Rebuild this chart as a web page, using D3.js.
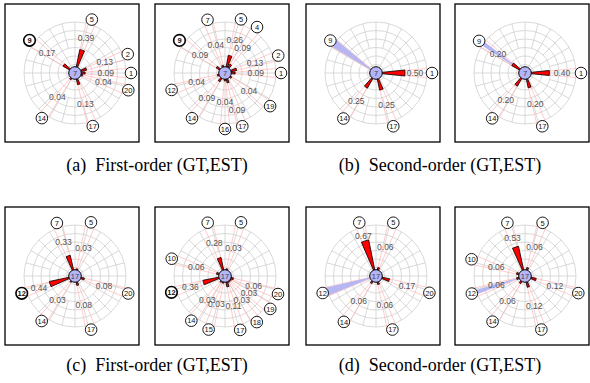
<!DOCTYPE html>
<html>
<head>
<meta charset="utf-8">
<script src="https://cdn.jsdelivr.net/npm/d3@7"></script>
<style>
body { margin: 0; background: #fff; }
</style>
</head>
<body>
<script>
// center node and previous node for each of the 8 small plots
const panelCenter = [7, 7, 7, 7, 17, 17, 17, 17]
const panelPrev = [9, 9, 9, 9, 12, 12, 12, 12]
const panelOrder = ['first', 'first', 'second', 'second', 'first', 'first', 'second', 'second']

// neighbours of the center node: id, bearing (deg, clockwise from north), probability
const nbIds = [
    [5, 2, 1, 20, 17, 14, 9],
    [7, 5, 4, 2, 1, 19, 17, 16, 14, 12, 9],
    [1, 17, 14, 9],
    [1, 17, 14, 9],
    [7, 5, 20, 17, 14, 12],
    [7, 5, 20, 19, 18, 17, 15, 14, 12, 10],
    [7, 5, 20, 17, 14, 12],
    [7, 5, 20, 17, 14, 12, 10]
]
const nbAngles = [
    [17.5, 70.3, 90, 107.9, 161.5, 216.3, 305.7],
    [341.8, 16.6, 34.9, 71.9, 90, 126.3, 162, 180, 216.1, 252.4, 305.6],
    [90, 162, 215.6, 305.4],
    [90, 162, 215.9, 305],
    [341.1, 16.6, 108.2, 163.3, 216.5, 252],
    [342, 16.6, 108.8, 126, 145.4, 164.3, 197, 217, 253, 288],
    [342.6, 18, 107.5, 163, 215, 252.3],
    [341.7, 18.3, 107.8, 163, 215.4, 251.7, 287.4]
]
const nbValues = [
    [0.39, 0.13, 0.09, 0.04, 0.13, 0.04, 0.17],
    [0.04, 0.26, 0.09, 0.13, 0.09, 0.04, 0.09, 0.04, 0.09, 0.04, 0.09],
    [0.50, 0.25, 0.25, 0],
    [0.40, 0.20, 0.20, 0.20],
    [0.33, 0.03, 0.08, 0.08, 0.03, 0.44],
    [0.28, 0.03, 0.06, 0.03, 0.03, 0.11, 0.03, 0.03, 0.36, 0.06],
    [0.67, 0.06, 0.17, 0.06, 0.06, 0],
    [0.53, 0.06, 0.12, 0.12, 0.06, 0.06, 0.06]
]
const captions = ['(a)  First-order (GT,EST)', '(b)  Second-order (GT,EST)',
                  '(c)  First-order (GT,EST)', '(d)  Second-order (GT,EST)']

// layout only
const boxX = [5, 155, 306, 455]
const boxY = [4, 207]
const boxW = 134, boxH = 138
// extra radial push for a few crowded value labels: "panel:id" -> px
const labelPush = {'1:17': 8, '1:16': -1, '0:17': 1, '0:9': 2}

const svg = d3.select("body").append("svg")
    .attr("width", 590)
    .attr("height", 383)

const rad = d3.scaleLinear().domain([0, 360]).range([0, 2 * Math.PI])
const tipR = d3.scaleLinear().domain([0, 1]).range([6, 52])
const labR = d3.scaleLinear().domain([0, 1]).range([29, 49])
const nodeR = 56
const gridRings = d3.range(1, 7).map(i => i * 8.5)
const spokes = d3.range(0, 360, 15)

function px(r, a){ return r * Math.sin(rad(a)) }
function py(r, a){ return -r * Math.cos(rad(a)) }

panelCenter.forEach(function(center, p){
    const bx = boxX[p % 4], by = boxY[Math.floor(p / 4)]
    const g = svg.append('g')

    g.append('rect')
        .attr('x', bx).attr('y', by)
        .attr('width', boxW).attr('height', boxH)
        .attr('fill', '#fff')
        .attr('stroke', '#000')
        .attr('stroke-width', 1.3)

    const c = g.append('g').attr('transform', `translate(${bx + 70},${by + 69})`)

    // polar grid
    c.selectAll('circle.ring')
        .data(gridRings)
        .enter().append('circle')
        .attr('class', 'ring')
        .attr('r', d => d)
        .attr('fill', 'none')
        .attr('stroke', '#cfcfcf')
        .attr('stroke-width', 0.8)
    c.selectAll('line.spoke')
        .data(spokes)
        .enter().append('line')
        .attr('class', 'spoke')
        .attr('x1', d => px(d % 30 == 0 ? 0 : gridRings[2], d))
        .attr('y1', d => py(d % 30 == 0 ? 0 : gridRings[2], d))
        .attr('x2', d => px(gridRings[5], d))
        .attr('y2', d => py(gridRings[5], d))
        .attr('stroke', '#cfcfcf')
        .attr('stroke-width', 0.8)

    const nb = nbIds[p].map((id, i) => ({id: id, a: nbAngles[p][i], v: nbValues[p][i]}))

    // pink rays toward every neighbour
    const rayArc = d3.arc().innerRadius(0).outerRadius(nodeR)
    c.selectAll('path.ray')
        .data(nb)
        .enter().append('path')
        .attr('class', 'ray')
        .attr('d', d => rayArc({startAngle: rad(d.a - 5), endAngle: rad(d.a + 5)}))
        .attr('fill', 'none')
        .attr('stroke', '#ffb4b4')
        .attr('stroke-width', 0.7)

    // lavender wedge toward previous node for second-order plots
    if(panelOrder[p] == 'second'){
        const prev = nb.filter(d => d.id == panelPrev[p])[0]
        const w = p % 2 == 0 ? 4.5 : 2.5
        c.append('path')
            .attr('d', d3.arc().innerRadius(0).outerRadius(nodeR - 4)
                ({startAngle: rad(prev.a - w), endAngle: rad(prev.a + w)}))
            .attr('fill', '#b6b6f2')
    }

    // red probability wedges
    c.selectAll('path.wedge')
        .data(nb.filter(d => d.v > 0))
        .enter().append('path')
        .attr('class', 'wedge')
        .attr('d', d => d3.arc().innerRadius(0).outerRadius(tipR(d.v))
            ({startAngle: rad(d.a - 6), endAngle: rad(d.a + 6)}))
        .attr('fill', '#f00')
        .attr('stroke', '#000')
        .attr('stroke-width', 0.8)

    const lr = d => labR(d.v) + (labelPush[p + ':' + d.id] || 0)
    c.selectAll('text.val')
        .data(nb.filter(d => d.v > 0))
        .enter().append('text')
        .attr('class', 'val')
        .attr('x', d => px(lr(d), d.a))
        .attr('y', d => py(lr(d), d.a))
        .attr('dy', '0.35em')
        .attr('text-anchor', 'middle')
        .attr('font-family', 'Liberation Sans, Arial, sans-serif')
        .attr('font-size', '8.5px')
        .attr('fill', '#555')
        .text(d => d3.format('.2f')(d.v))

    // center node
    c.append('circle')
        .attr('r', 6.3)
        .attr('fill', '#b4b4f8')
        .attr('stroke', '#000')
        .attr('stroke-width', 1)
    c.append('text')
        .attr('dy', '0.35em')
        .attr('text-anchor', 'middle')
        .attr('font-family', 'Liberation Sans, Arial, sans-serif')
        .attr('font-size', '7.5px')
        .attr('fill', '#444')
        .text(center)

    // neighbour nodes
    const nodes = c.selectAll('g.nb')
        .data(nb)
        .enter().append('g')
        .attr('class', 'nb')
        .attr('transform', d => `translate(${px(nodeR, d.a)},${py(nodeR, d.a)})`)
    const bold = d => panelOrder[p] == 'first' && d.id == panelPrev[p]
    nodes.append('circle')
        .attr('r', 5.8)
        .attr('fill', '#fff')
        .attr('stroke', '#000')
        .attr('stroke-width', d => bold(d) ? 1.6 : 0.9)
    nodes.append('text')
        .attr('dy', '0.36em')
        .attr('text-anchor', 'middle')
        .attr('font-family', 'Liberation Sans, Arial, sans-serif')
        .attr('font-size', '7.5px')
        .attr('font-weight', d => bold(d) ? 'bold' : 'normal')
        .attr('fill', '#111')
        .text(d => d.id)
})

svg.selectAll('text.caption')
    .data(captions)
    .enter().append('text')
    .attr('class', 'caption')
    .attr('x', (d, i) => i % 2 == 0 ? 157 : 440)
    .attr('y', (d, i) => i < 2 ? 171 : 371)
    .attr('text-anchor', 'middle')
    .attr('font-family', 'Liberation Serif, Times New Roman, serif')
    .attr('font-size', '18px')
    .style('white-space', 'pre')
    .attr('fill', '#000')
    .text(d => d)
</script>
</body>
</html>
